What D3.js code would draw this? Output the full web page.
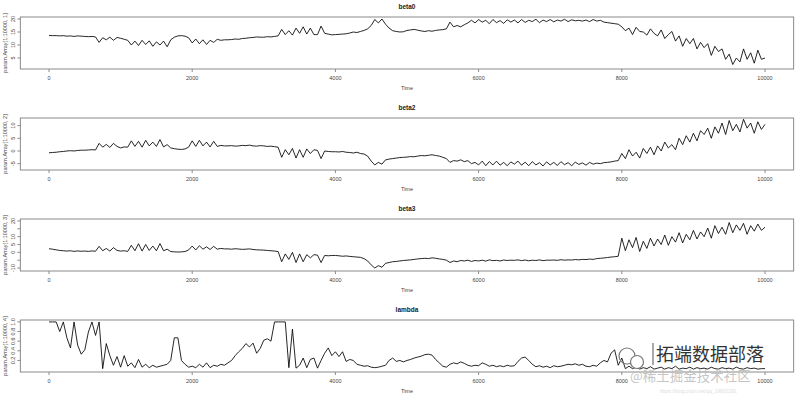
<!DOCTYPE html>
<html>
<head>
<meta charset="utf-8">
<script src="https://cdn.jsdelivr.net/npm/d3@7"></script>
<style>
	body { margin: 0; background: #fff; }
	svg { display: block; font-family: "Liberation Sans", Arial, sans-serif; }
</style>
</head>
<body>
<div id="trace_plot"></div>
<script>
// MCMC traces, one value every 50 iterations (t = 0, 50, ..., 10000)
var STEP = 50;

var beta0 = [
	13.7,13.6,13.6,13.5,13.6,13.4,13.5,13.3,13.5,13.4,
	13.3,13.2,13.3,13.1,11.0,12.8,12.0,13.0,11.8,12.9,
	12.6,12.2,11.8,10.0,11.5,9.8,11.8,10.2,11.6,9.5,
	11.2,10.0,11.5,9.3,12.0,13.0,13.5,13.6,13.4,12.8,
	10.8,12.3,10.5,12.0,10.2,11.8,11.0,12.2,11.8,12.0,
	12.0,12.1,12.3,12.2,12.5,12.6,12.8,12.9,13.1,13.0,
	13.0,13.2,13.1,13.3,13.5,16.0,14.0,15.5,13.8,16.5,
	14.5,17.0,14.2,16.5,14.0,14.0,17.3,14.5,14.2,13.9,
	14.0,14.1,14.2,14.3,14.6,15.0,14.8,15.2,15.6,16.2,
	17.5,19.8,18.5,20.0,18.0,16.5,15.5,15.2,15.0,15.1,
	15.6,15.8,16.0,15.7,15.4,15.2,15.5,15.3,15.6,15.8,
	15.9,16.2,18.8,17.0,17.5,17.0,17.8,18.5,19.5,18.5,
	19.8,18.8,19.5,18.2,19.8,18.6,19.4,18.3,19.7,18.8,
	19.6,18.5,19.8,18.7,19.5,19.0,19.9,18.6,19.6,19.0,
	19.8,18.9,19.6,19.2,19.9,19.0,19.7,19.3,19.5,19.2,
	19.6,19.0,19.8,19.2,19.5,18.8,18.6,18.4,18.2,18.0,
	17.0,15.5,16.5,14.0,16.8,15.2,15.0,13.8,16.2,14.5,
	13.5,15.8,12.5,14.0,15.2,11.5,13.5,9.5,12.5,10.5,
	12.5,8.5,11.0,9.0,10.5,6.0,9.5,7.5,8.5,4.5,
	6.5,2.5,5.0,3.5,8.5,4.5,7.0,3.0,8.0,4.5,
	5.0
];

var beta2 = [
	-0.7,-0.6,-0.5,-0.3,-0.2,0.0,0.1,0.0,0.2,0.3,
	0.3,0.4,0.5,0.4,3.0,1.5,2.6,1.4,3.0,1.8,
	1.2,1.6,1.5,4.0,1.8,3.8,1.5,4.2,2.0,3.5,
	1.8,4.5,1.6,2.5,1.2,0.9,0.7,0.6,0.8,1.5,
	4.0,1.8,4.2,2.0,3.5,1.6,3.8,1.8,2.2,2.0,
	2.0,2.1,1.9,2.0,2.2,2.1,2.3,2.0,1.9,2.1,
	2.0,1.8,1.9,1.7,1.5,-2.5,0.5,-1.5,1.0,-2.8,
	0.5,-2.5,0.8,-1.0,0.5,0.2,-3.0,0.0,-0.2,-0.3,
	-0.3,-0.4,-0.2,-0.5,-0.6,-0.8,-0.5,-1.0,-1.2,-2.0,
	-4.0,-5.5,-4.5,-5.2,-3.5,-3.2,-3.0,-2.8,-2.6,-2.5,
	-2.4,-2.2,-2.3,-2.0,-1.8,-1.9,-1.7,-1.5,-1.8,-2.0,
	-2.5,-3.0,-4.5,-3.8,-4.0,-3.5,-4.2,-3.8,-5.0,-4.5,
	-5.5,-4.0,-5.8,-4.2,-5.5,-4.0,-5.6,-4.5,-5.8,-4.3,
	-5.2,-4.0,-5.6,-4.4,-5.8,-4.2,-5.5,-4.6,-5.9,-4.3,
	-5.5,-4.5,-5.7,-4.2,-5.4,-4.6,-5.8,-4.4,-5.3,-4.7,
	-5.6,-4.5,-5.2,-4.8,-5.0,-4.6,-4.5,-4.3,-4.0,-3.8,
	-1.0,-3.0,0.5,-2.0,-0.5,-2.8,1.0,-1.0,1.5,-1.5,
	2.0,0.0,3.5,1.2,2.5,0.5,5.0,2.5,6.0,3.5,
	7.0,4.0,8.0,6.5,9.0,5.0,9.5,7.0,11.0,6.5,
	12.0,8.0,10.5,7.5,12.5,9.0,11.0,7.0,11.5,8.5,
	10.5
];

var beta3 = [
	2.3,2.0,1.6,1.2,1.0,0.8,1.0,0.6,0.9,0.7,
	0.8,0.6,0.9,0.7,3.8,1.0,2.5,0.8,3.0,1.2,
	0.8,1.0,0.6,4.5,1.0,5.5,0.8,5.0,1.2,4.0,
	1.0,5.6,1.0,2.0,0.5,0.3,0.2,0.3,0.5,1.5,
	4.0,1.5,4.2,2.0,3.5,1.8,3.8,2.0,2.5,2.2,
	2.2,2.0,2.3,2.1,1.9,2.0,2.2,1.8,1.6,1.5,
	1.4,1.2,1.0,0.8,0.5,-6.0,-1.0,-4.5,0.0,-6.5,
	-1.0,-6.0,-1.5,-3.5,-1.5,-1.8,-6.5,-2.0,-2.2,-2.0,
	-2.0,-2.2,-2.5,-2.3,-2.6,-2.8,-3.0,-3.2,-4.0,-5.5,
	-8.0,-10.0,-8.5,-9.5,-7.0,-6.5,-6.0,-5.8,-5.5,-5.2,
	-5.0,-4.8,-4.5,-4.2,-4.0,-3.8,-4.0,-3.5,-3.8,-4.2,
	-4.5,-5.0,-6.5,-5.5,-6.0,-5.2,-5.5,-5.0,-5.8,-5.2,
	-5.5,-5.0,-5.6,-4.8,-5.3,-5.1,-5.5,-4.9,-5.2,-5.0,
	-5.1,-4.8,-5.3,-4.9,-5.4,-5.0,-5.2,-4.8,-5.3,-5.0,
	-5.0,-4.9,-5.1,-4.7,-5.0,-4.8,-4.9,-4.6,-4.8,-4.5,
	-4.6,-4.3,-4.5,-4.0,-3.8,-3.6,-3.3,-3.0,-2.8,-2.5,
	9.0,1.0,8.0,3.0,9.5,0.5,7.0,2.5,9.0,4.0,
	8.5,5.0,11.0,4.5,10.0,6.5,12.5,6.0,11.5,8.0,
	14.0,8.5,13.0,10.0,15.5,9.0,17.0,12.0,16.0,11.5,
	19.0,12.5,17.5,14.0,18.5,11.5,17.0,13.5,18.0,14.0,
	16.0
];

var lambda = [
	1.0,1.0,1.0,0.8,1.0,0.67,0.46,1.0,0.52,0.33,
	0.42,0.79,1.0,0.72,1.0,0.03,0.55,0.3,0.1,0.28,
	0.06,0.3,0.08,0.15,0.05,0.22,0.06,0.12,0.05,0.1,
	0.06,0.08,0.1,0.12,0.2,0.67,0.67,0.2,0.12,0.06,
	0.08,0.05,0.12,0.06,0.15,0.05,0.1,0.08,0.12,0.1,
	0.15,0.2,0.3,0.38,0.45,0.55,0.48,0.56,0.35,0.45,
	0.62,0.65,0.6,1.0,1.0,1.0,1.0,0.05,0.85,0.04,
	0.1,0.25,0.05,0.22,0.25,0.04,0.2,0.35,0.46,0.3,
	0.38,0.28,0.38,0.18,0.22,0.2,0.12,0.1,0.08,0.09,
	0.06,0.05,0.06,0.08,0.1,0.2,0.25,0.18,0.2,0.17,
	0.2,0.22,0.25,0.27,0.29,0.32,0.33,0.31,0.22,0.15,
	0.08,0.06,0.12,0.15,0.13,0.17,0.14,0.1,0.08,0.1,
	0.09,0.15,0.12,0.08,0.1,0.07,0.09,0.07,0.1,0.08,
	0.09,0.18,0.25,0.27,0.2,0.12,0.07,0.09,0.06,0.08,
	0.05,0.09,0.07,0.08,0.1,0.12,0.11,0.13,0.1,0.12,
	0.08,0.07,0.1,0.08,0.15,0.2,0.17,0.35,0.42,0.1,
	0.25,0.03,0.08,0.03,0.06,0.02,0.05,0.03,0.07,0.02,
	0.04,0.06,0.02,0.05,0.03,0.08,0.02,0.04,0.03,0.06,
	0.02,0.05,0.03,0.04,0.02,0.06,0.03,0.02,0.05,0.03,
	0.04,0.02,0.06,0.03,0.02,0.05,0.03,0.04,0.02,0.03,
	0.03
];

var titles = ["beta0", "beta2", "beta3", "lambda"];
var yTitles = ["param.Array[1:10000, 1]", "param.Array[1:10000, 2]",
               "param.Array[1:10000, 3]", "param.Array[1:10000, 4]"];
var xTicks = [0, 2000, 4000, 6000, 8000, 10000];
var yTicks = [[5, 10, 15, 20], [-5, 0, 5, 10], [-10, -5, 0, 5, 10, 15, 20],
              [0.2, 0.4, 0.6, 0.8, 1.0]];
var yLabels = [[5, 10, 15, 20], [-5, 0, 5, 10], [-10, 0, 5, 10, 20],
               [0.2, 0.4, 0.6, 0.8, 1.0]];
var yDomains = [[0.77, 20.77], [-7.5, 13.0], [-11.9, 21.25], [-0.04, 1.04]];

var opts = {
	width: 800,
	height: 395,
	firstTop: 17,      // top of the first plot box
	panelStep: 101,    // vertical distance between panels
	boxHeight: 52,
	tickLen: 3,
	axisColor: "#8a8a8a",
	textColor: "#444"
};

function drawPanel(svg, idx, series, xScale)
{
	var top = opts.firstTop + idx * opts.panelStep;
	var bottom = top + opts.boxHeight;
	var yScale = d3.scaleLinear().domain(yDomains[idx]).range([bottom, top]);
	var g = svg.append("g");

	var left = xScale(-400), right = xScale(10400);

	// plot box
	g.append("rect")
		.attr("x", left).attr("y", top)
		.attr("width", right - left).attr("height", opts.boxHeight)
		.attr("fill", "none").attr("stroke", opts.axisColor).attr("stroke-width", 1);

	// trace
	var line = d3.line()
		.x(function(d, i) { return xScale(i * STEP); })
		.y(function(d) { return yScale(d); });

	g.append("path")
		.datum(series)
		.attr("d", line)
		.attr("fill", "none")
		.attr("stroke", "#000")
		.attr("stroke-width", 0.85)
		.attr("stroke-linejoin", "miter");

	// x axis ticks
	g.selectAll(".xt").data(xTicks).enter().append("line")
		.attr("x1", function(d) { return xScale(d); })
		.attr("x2", function(d) { return xScale(d); })
		.attr("y1", bottom).attr("y2", bottom + opts.tickLen)
		.attr("stroke", opts.axisColor);

	g.selectAll(".xl").data(xTicks).enter().append("text")
		.attr("x", function(d) { return xScale(d); })
		.attr("y", bottom + 11)
		.attr("text-anchor", "middle")
		.attr("font-size", 5.5)
		.attr("fill", opts.textColor)
		.text(function(d) { return d; });

	// y axis ticks, labels parallel to the axis like R
	g.selectAll(".yt").data(yTicks[idx]).enter().append("line")
		.attr("x1", left).attr("x2", left - opts.tickLen)
		.attr("y1", function(d) { return yScale(d); })
		.attr("y2", function(d) { return yScale(d); })
		.attr("stroke", opts.axisColor);

	g.selectAll(".yl").data(yLabels[idx]).enter().append("text")
		.attr("transform", function(d) {
			return "translate(" + (left - 5.5) + "," + yScale(d) + ") rotate(-90)";
		})
		.attr("text-anchor", "middle")
		.attr("font-size", 5.5)
		.attr("fill", opts.textColor)
		.text(function(d) { return idx === 3 ? d.toFixed(1) : d; });

	// titles
	g.append("text")
		.attr("x", (left + right) / 2).attr("y", top - 8)
		.attr("text-anchor", "middle")
		.attr("font-size", 6.5).attr("font-weight", "bold")
		.attr("fill", "#222")
		.text(titles[idx]);

	g.append("text")
		.attr("x", (left + right) / 2).attr("y", bottom + 21)
		.attr("text-anchor", "middle")
		.attr("font-size", 5.5)
		.attr("fill", opts.textColor)
		.text("Time");

	g.append("text")
		.attr("transform", "translate(7," + (top + bottom) / 2 + ") rotate(-90)")
		.attr("text-anchor", "middle")
		.attr("font-size", 5.5)
		.attr("fill", opts.textColor)
		.text(yTitles[idx]);
}

function drawWatermark(svg)
{
	var g = svg.append("g");

	// wechat-like bubble icon
	g.append("circle").attr("cx", 627).attr("cy", 356).attr("r", 8)
		.attr("fill", "none").attr("stroke", "#777").attr("stroke-width", 1.2);
	g.append("circle").attr("cx", 637).attr("cy", 362).attr("r", 6.5)
		.attr("fill", "#fff").attr("stroke", "#777").attr("stroke-width", 1.2);

	g.append("line").attr("x1", 653).attr("x2", 653).attr("y1", 343).attr("y2", 365)
		.attr("stroke", "#555").attr("stroke-width", 1);

	g.append("text")
		.attr("x", 656).attr("y", 361)
		.attr("font-family", "Noto Sans CJK SC")
		.attr("font-size", 18)
		.attr("fill", "#333")
		.text("拓端数据部落");

	g.append("text")
		.attr("x", 630).attr("y", 381)
		.attr("font-family", "Noto Sans CJK SC")
		.attr("font-size", 13.5)
		.attr("fill", "#bbb")
		.attr("fill-opacity", 0.85)
		.text("@稀土掘金技术社区");

	g.append("text")
		.attr("x", 660).attr("y", 393)
		.attr("font-size", 5)
		.attr("fill", "#ddd")
		.text("https://blog.csdn.net/qq_19600291");
}

function init()
{
	var svg = d3.select("#trace_plot").append("svg")
		.attr("width", opts.width)
		.attr("height", opts.height);

	var xScale = d3.scaleLinear().domain([0, 10000]).range([49, 765]);

	var allSeries = [beta0, beta2, beta3, lambda];
	allSeries.forEach(function(series, idx) {
		drawPanel(svg, idx, series, xScale);
	});

	drawWatermark(svg);
}

init();
</script>
</body>
</html>
